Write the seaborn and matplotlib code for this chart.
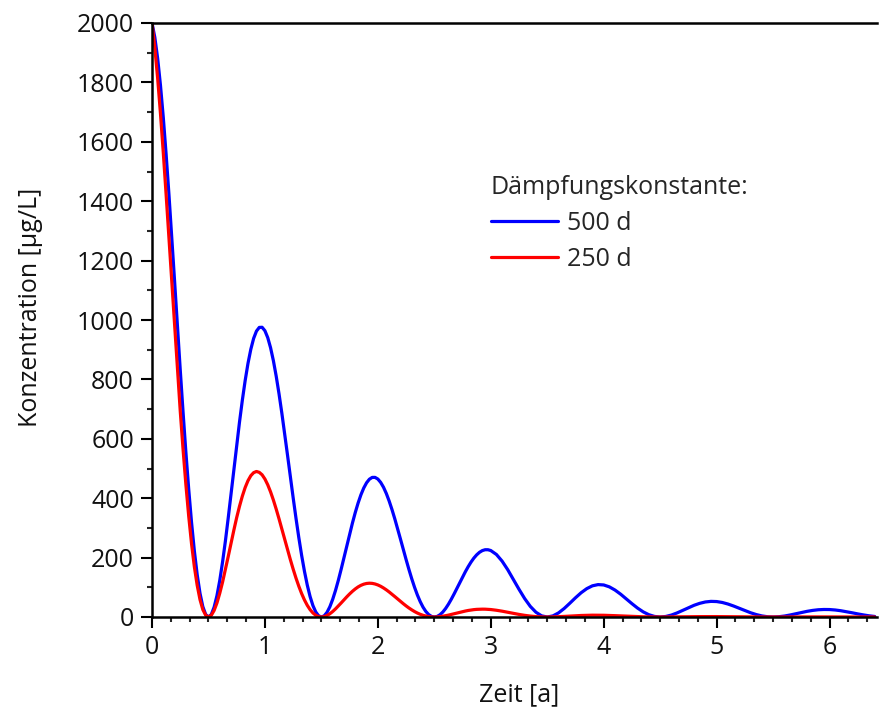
import matplotlib
matplotlib.use("Agg")
import matplotlib.pyplot as plt
from matplotlib.ticker import MultipleLocator
import numpy as np
import pandas as pd
import seaborn as sns

# time axis in years, sampled every 0.05 a
zeit = np.round(np.arange(0, 6.4001, 0.05), 3)

# concentration [µg/L], damping constant 500 d
konz_500 = [
    2000, 1881, 1682, 1423, 1131, 833, 555, 319, 143, 35,
    0, 33, 123, 256, 415, 578, 730, 854, 938, 975,
    963.8, 906.5, 810.4, 685.8, 545.1, 401.5, 267.5, 153.9, 68.7, 17.0,
    0, 15.8, 59.4, 123.6, 199.8, 278.7, 351.8, 411.4, 451.9, 470.0,
    464.5, 436.9, 390.5, 330.5, 262.7, 193.5, 128.9, 74.1, 33.1, 8.2,
    0, 7.6, 28.6, 59.6, 96.3, 134.3, 169.5, 198.3, 217.8, 226.5,
    223.8, 210.5, 188.2, 159.3, 126.6, 93.2, 62.1, 35.7, 16.0, 3.9,
    0, 3.7, 13.8, 28.7, 46.4, 64.7, 81.7, 95.5, 105.0, 109.1,
    107.9, 101.5, 90.7, 76.8, 61.0, 44.9, 29.9, 17.2, 7.7, 1.9,
    0, 1.8, 6.6, 13.8, 22.4, 31.2, 39.4, 46.0, 50.6, 52.6,
    52.0, 48.9, 43.7, 37.0, 29.4, 21.7, 14.4, 8.3, 3.7, 0.9,
    0, 0.9, 3.2, 6.7, 10.8, 15.0, 19.0, 22.2, 24.4, 25.3,
    25.1, 23.6, 21.1, 17.8, 14.2, 10.4, 7.0, 4.0, 1.8,
]

# concentration [µg/L], damping constant 250 d
konz_250 = [
    2000, 1814, 1563, 1276, 978, 694, 446, 247, 107, 25,
    0, 22, 80, 160, 249, 335, 407, 459, 486, 487,
    464.5, 421.2, 363.0, 296.2, 227.0, 161.2, 103.6, 57.4, 24.7, 5.9,
    0, 5.1, 18.5, 37.1, 57.7, 77.7, 94.5, 106.6, 112.9, 113.2,
    107.9, 97.8, 84.3, 68.8, 52.7, 37.4, 24.1, 13.3, 5.7, 1.4,
    0, 1.2, 4.3, 8.6, 13.4, 18.0, 22.0, 24.8, 26.2, 26.3,
    25.1, 22.7, 19.6, 16.0, 12.2, 8.7, 5.6, 3.1, 1.3, 0.3,
    0, 0.3, 1.0, 2.0, 3.1, 4.2, 5.1, 5.7, 6.1, 6.1,
    5.8, 5.3, 4.5, 3.7, 2.8, 2.0, 1.3, 0.7, 0.3, 0.1,
    0, 0.1, 0.2, 0.5, 0.7, 1.0, 1.2, 1.3, 1.4, 1.4,
    1.4, 1.2, 1.1, 0.9, 0.7, 0.5, 0.3, 0.2, 0.1, 0,
    0, 0, 0.1, 0.1, 0.2, 0.2, 0.3, 0.3, 0.3, 0.3,
    0.3, 0.3, 0.3, 0.2, 0.2, 0.1, 0.1, 0.1, 0,
]

# extra readings in between (t = 0.025, 0.075, ... 2.975) where the curves bend strongly
zeit_fein = np.round(np.arange(0.025, 3.0, 0.05), 3)

konz_500_fein = [
    1951.7, 1790.3, 1558.2, 1279.6, 981.3, 690.1, 430.7, 222.8, 79.9, 8.7,
    8.4, 71.6, 185.6, 333.6, 496.9, 656.8, 796.2, 901.3, 962.6, 975.5,
    940.5, 862.8, 750.9, 616.7, 472.9, 332.6, 207.6, 107.4, 38.5, 4.2,
    4.0, 34.5, 89.4, 160.8, 239.5, 316.5, 383.7, 434.3, 463.9, 470.1,
    453.2, 415.8, 361.9, 297.2, 227.9, 160.3, 100.0, 51.8, 18.6, 2.0,
    1.9, 16.6, 43.1, 77.5, 115.4, 152.5, 184.9, 209.3, 223.6, 226.5,
]

konz_250_fein = [
    1916.4, 1694.9, 1422.3, 1126.2, 832.6, 564.6, 339.7, 169.4, 58.6, 6.2,
    5.7, 47.1, 117.6, 203.8, 292.7, 373.0, 436.0, 475.8, 490.0, 478.8,
    445.1, 393.6, 330.3, 261.5, 193.4, 131.1, 78.9, 39.3, 13.6, 1.4,
    1.3, 10.9, 27.3, 47.3, 68.0, 86.6, 101.3, 110.5, 113.8, 111.2,
    103.4, 91.4, 76.7, 60.7, 44.9, 30.4, 18.3, 9.1, 3.2, 0.3,
    0.3, 2.5, 6.3, 11.0, 15.8, 20.1, 23.5, 25.7, 26.4, 25.8,
]

serien = ["500 d", "250 d"]
farben = ["#0000ff", "#ff0000"]

teile = []
for name, grob, fein in [(serien[0], konz_500, konz_500_fein),
                         (serien[1], konz_250, konz_250_fein)]:
    t = np.concatenate([zeit, zeit_fein])
    c = np.concatenate([grob, fein])
    teile.append(pd.DataFrame({"Zeit": t, "Konz": c, "Serie": name}))
df = pd.concat(teile).sort_values(["Serie", "Zeit"], kind="stable")

sns.set_style("ticks")
plt.rcParams["font.family"] = ["Open Sans", "DejaVu Sans"]
fs = 18

fig = plt.figure(figsize=(8.8, 7.14), dpi=100)
ax = fig.add_axes([152 / 880, 97 / 714, 725 / 880, 594 / 714])

sns.lineplot(data=df, x="Zeit", y="Konz", hue="Serie", hue_order=serien,
             palette=farben, linewidth=2.3, sort=True, ax=ax)

ax.set_xlim(0, 6.42)
ax.set_ylim(0, 2000)
ax.xaxis.set_major_locator(MultipleLocator(1))
ax.xaxis.set_minor_locator(MultipleLocator(1 / 6))
ax.yaxis.set_major_locator(MultipleLocator(200))
ax.yaxis.set_minor_locator(MultipleLocator(100))
ax.tick_params(which="major", length=8, width=1.5, labelsize=fs, color="black",
               labelcolor="#111111", direction="out", pad=5)
ax.tick_params(which="minor", length=3.8, width=1.5, direction="out")

for side in ["left", "bottom", "top"]:
    ax.spines[side].set_linewidth(1.8)
    ax.spines[side].set_color("black")
ax.spines["right"].set_visible(False)

ax.set_xlabel("Zeit [a]", fontsize=fs, color="#111111")
ax.set_ylabel("Konzentration [µg/L]", fontsize=fs, color="#111111")
ax.xaxis.set_label_coords(0.506, -0.110)
ax.yaxis.set_label_coords(-0.150, 0.521)

leg = ax.legend(title="Dämpfungskonstante:", loc="upper left",
                bbox_to_anchor=(468 / 880, 1 - 153 / 714), bbox_transform=fig.transFigure,
                frameon=False, fontsize=fs, title_fontsize=fs, alignment="left",
                handlelength=2.68, handletextpad=0.36, labelspacing=0.42)

fig.savefig("out.png", dpi=100)
